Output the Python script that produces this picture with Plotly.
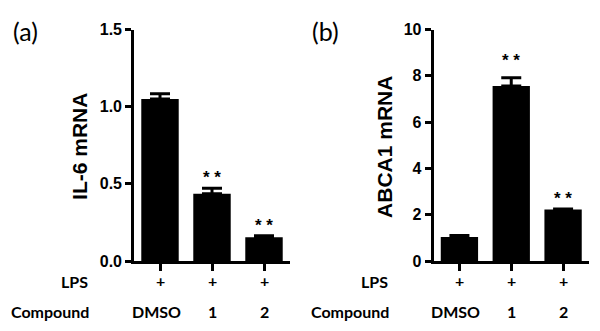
import plotly.graph_objects as go

categories = ["DMSO", "1", "2"]
lps = ["+", "+", "+"]
il6_mean = [1.05, 0.435, 0.154]
il6_err = [0.033, 0.037, 0.010]
abca1_mean = [1.04, 7.56, 2.22]
abca1_err = [0.06, 0.36, 0.03]
il6_sig = ["", "* *", "* *"]
abca1_sig = ["", "* *", "* *"]

W, H = 600, 331
def px_x(p): return p / W
def px_y(p): return (H - p) / H

fig = go.Figure()
for i, (m, e) in enumerate([(il6_mean, il6_err), (abca1_mean, abca1_err)]):
    ax = "" if i == 0 else "2"
    fig.add_trace(go.Bar(
        x=categories, y=m, width=0.72,
        marker=dict(color="black", line=dict(width=0)),
        error_y=dict(type="data", array=e, arrayminus=[0]*len(e), symmetric=False,
                     color="black", thickness=3, width=10),
        xaxis="x" + ax, yaxis="y" + ax, showlegend=False, hoverinfo="skip",
    ))

ybot, ytop = px_y(261), px_y(29.5)
axis_common = dict(showline=True, linecolor="black", linewidth=2.6, ticks="outside",
                   tickcolor="black", tickwidth=2.6, showgrid=False, zeroline=False,
                   automargin=False)
tick_font = dict(family="Liberation Sans", size=16, color="black", weight="bold")
fig.update_layout(
    template="simple_white",
    width=W, height=H, margin=dict(l=0, r=0, t=0, b=0, pad=0, autoexpand=False),
    plot_bgcolor="white", paper_bgcolor="white", bargap=0.28,
    xaxis=dict(domain=[px_x(134), px_x(290)], range=[-0.5, 2.5], ticklen=7,
               showticklabels=False, anchor="y", **axis_common),
    yaxis=dict(domain=[ybot, ytop], range=[0, 1.5], tickvals=[0, 0.5, 1.0, 1.5],
               tickformat=".1f", ticklen=6, anchor="x", tickfont=tick_font,
               **axis_common),
    xaxis2=dict(domain=[px_x(433.5), px_x(589)], range=[-0.5, 2.5], ticklen=7,
                showticklabels=False, anchor="y2", **axis_common),
    yaxis2=dict(domain=[ybot, ytop], range=[0, 10], tickvals=[0, 2, 4, 6, 8, 10],
                ticklen=6, anchor="x2", tickfont=tick_font,
                **axis_common),
)

ann = []
lab_font = dict(family="Lato", size=16, color="black", weight="bold")
for i, (title, m, e, sig, xoff, tx) in enumerate([
        ("IL-6 mRNA", il6_mean, il6_err, il6_sig, 0, 80),
        ("ABCA1 mRNA", abca1_mean, abca1_err, abca1_sig, 300, 385)]):
    ax = "" if i == 0 else "2"
    # panel letter
    ann.append(dict(text="(a)" if i == 0 else "(b)", x=px_x(25 + xoff), y=px_y(31),
                    xref="paper", yref="paper", showarrow=False, xanchor="center", yanchor="middle",
                    font=dict(family="Lato", size=25, color="black")))
    # y title
    ann.append(dict(text=title, x=px_x(tx), y=(ybot + ytop) / 2 - 0.005, xref="paper", yref="paper",
                    showarrow=False, textangle=-90, xanchor="center", yanchor="middle",
                    font=dict(family="Liberation Sans", size=21, color="black", weight="bold")))
    # row labels
    ann.append(dict(text="LPS", x=px_x(90 + xoff), y=px_y(281), xref="paper", yref="paper",
                    showarrow=False, xanchor="right", yanchor="middle", font=lab_font))
    ann.append(dict(text="Compound", x=px_x(91 + xoff), y=px_y(311), xref="paper", yref="paper",
                    showarrow=False, xanchor="right", yanchor="middle", font=lab_font))
    for j, c in enumerate(categories):
        ann.append(dict(text=lps[j], x=c, y=px_y(280), xref="x" + ax, yref="paper",
                        showarrow=False, xanchor="center", yanchor="middle", font=lab_font))
        ann.append(dict(text=c, x=c, y=px_y(311), xref="x" + ax, yref="paper",
                        xshift=-4 if c == "DMSO" else 0,
                        showarrow=False, xanchor="center", yanchor="middle", font=lab_font))
        if sig[j]:
            shift = 19 if (i == 1 and j == 1) else 12
            ann.append(dict(text=sig[j], x=c, y=m[j] + e[j], xref="x" + ax, yref="y" + ax,
                            showarrow=False, xanchor="center", yanchor="bottom", yshift=shift - 13,
                            font=dict(family="Liberation Sans", size=17, color="black",
                                      weight="bold")))
fig.update_layout(annotations=ann)
fig.write_html("out.html", config={"displayModeBar": False},
               post_script="document.body.style.margin='0px';document.body.style.padding='0px';")
